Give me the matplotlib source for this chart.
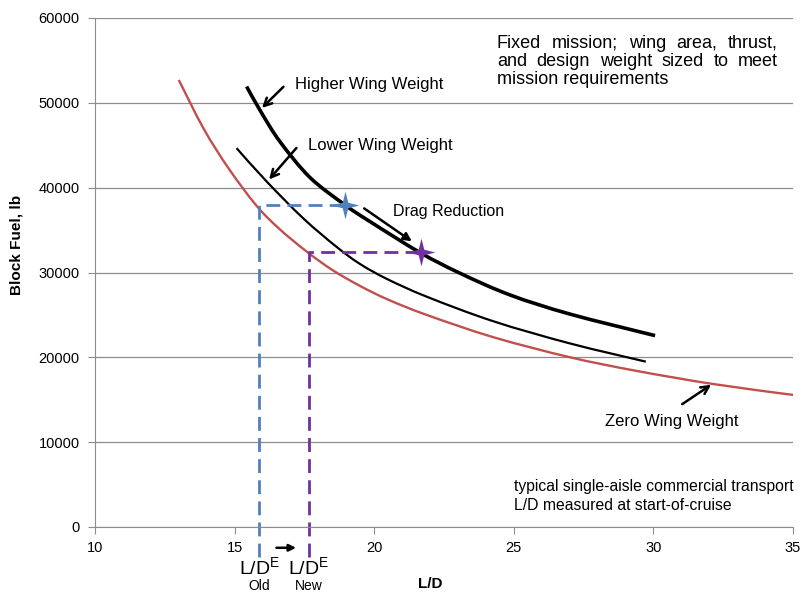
import numpy as np
import matplotlib.pyplot as plt
from matplotlib.path import Path
from matplotlib.patches import PathPatch

plt.rcParams['font.family'] = ['Liberation Sans', 'DejaVu Sans']

# Zero wing weight curve (red)
zero_x = [13.0, 13.9, 14.8, 15.79, 16.6, 17.58, 18.5, 19.49, 20.5, 21.88, 24.27,
          27.01, 29.4, 32.15, 35.0]
zero_y = [52700, 46900, 42200, 37850, 35150, 32470, 30300, 28420, 26800, 25000, 22370,
          20010, 18400, 16850, 15570]

# Higher wing weight curve (thick black)
high_x = [15.43, 15.95, 16.63, 17.70, 18.95, 19.85, 21.64, 23.07, 24.86, 27.01, 30.06]
high_y = [51920, 48900, 45400, 41200, 37970, 36000, 32350, 29920, 27360, 25100, 22560]

# Lower wing weight curve (thin black)
low_x = [15.07, 16.15, 17.46, 18.66, 19.49, 20.45, 21.88, 24.27, 27.01, 29.73]
low_y = [44660, 40720, 36380, 33000, 31010, 29250, 27150, 24250, 21640, 19490]

# L/D old / new points
ld_old, fuel_old, ld_old_star = 15.88, 37900, 18.95
ld_new, fuel_new, ld_new_star = 17.65, 32440, 21.68

blue = '#4f81bd'
purple = '#7030a0'
red = '#c0504d'


def smooth_line(ax, xs, ys, **kw):
    # Excel-style smoothed line: Catmull-Rom segments as cubic Beziers
    p = np.column_stack([xs, ys]).astype(float)
    verts = [p[0]]
    codes = [Path.MOVETO]
    n = len(p)
    for i in range(n - 1):
        p0 = p[i - 1] if i > 0 else p[i]
        p3 = p[i + 2] if i + 2 < n else p[i + 1]
        c1 = p[i] + (p[i + 1] - p0) / 6
        c2 = p[i + 1] - (p3 - p[i]) / 6
        verts += [c1, c2, p[i + 1]]
        codes += [Path.CURVE4] * 3
    ax.add_patch(PathPatch(Path(verts, codes), fill=False, capstyle='butt', **kw))


fig = plt.figure(figsize=(8.04, 5.93), dpi=100)
ax = fig.add_axes([95/804, 1-527/593, 698/804, 509/593])

smooth_line(ax, zero_x, zero_y, edgecolor=red, lw=1.7)
smooth_line(ax, low_x, low_y, edgecolor='black', lw=1.6)
smooth_line(ax, high_x, high_y, edgecolor='black', lw=2.6)

# dashed guides
ax.plot([ld_old, ld_old, ld_old_star], [-3500, fuel_old, fuel_old], color=blue, lw=2,
        ls=(0, (5, 2.6)), clip_on=False)
ax.plot([ld_new, ld_new, ld_new_star], [-3500, fuel_new, fuel_new], color=purple, lw=2,
        ls=(0, (5, 2.6)), clip_on=False)

star = Path([(0, 1), (0.2, 0.2), (1, 0), (0.2, -0.2), (0, -1), (-0.2, -0.2),
             (-1, 0), (-0.2, 0.2), (0, 1)], closed=True)
ax.plot([ld_old_star], [fuel_old], marker=star, ms=20, color=blue, mew=0)
ax.plot([ld_new_star], [fuel_new], marker=star, ms=20, color=purple, mew=0)

ax.set_xlim(10, 35)
ax.set_ylim(0, 60000)
ax.set_xticks([10, 15, 20, 25, 30, 35])
ax.set_yticks(range(0, 60001, 10000))
ax.grid(axis='y', color='#8c8c8c', lw=0.9)
ax.set_axisbelow(True)
for s in ['top', 'right']:
    ax.spines[s].set_visible(False)
for s in ['left', 'bottom']:
    ax.spines[s].set_color('#8c8c8c')
ax.tick_params(axis='x', direction='out', length=5, color='#8c8c8c', labelsize=10.5, pad=5)
ax.tick_params(axis='y', direction='out', length=5, color='#8c8c8c', labelsize=10.5, pad=6)

ax.set_xlabel('L/D', fontsize=11, fontweight='bold')
ax.xaxis.set_label_coords((430-95)/698, -50/509)
fig.text(17/804, 1-245/593, 'Block Fuel, lb', rotation=90, fontsize=11,
         fontweight='bold', ha='center', va='center')

arr = dict(arrowstyle='->', color='black', lw=1.8, mutation_scale=14)
ax.annotate('', xy=(15.91, 49170), xytext=(16.82, 52120), arrowprops=arr)
ax.text(17.16, 52120, 'Higher Wing Weight', fontsize=12, va='center')
ax.annotate('', xy=(16.17, 40720), xytext=(17.28, 44930), arrowprops=arr)
ax.text(17.63, 44930, 'Lower Wing Weight', fontsize=12, va='center')
ax.annotate('', xy=(21.43, 33490), xytext=(19.56, 37740),
            arrowprops=dict(arrowstyle='-|>', color='black', lw=1.8, mutation_scale=12))
ax.text(20.67, 37150, 'Drag Reduction', fontsize=11.5, va='center')
ax.annotate('', xy=(32.15, 16950), xytext=(30.95, 14300), arrowprops=arr)
ax.text(30.67, 12380, 'Zero Wing Weight', fontsize=12, va='center', ha='center')

# justified note in the top right
note_lines = ['Fixed mission; wing area, thrust,', 'and design weight sized to meet',
              'mission requirements']
note_y = [43, 61, 79]
x0, x1 = 497, 778
fig.canvas.draw()
renderer = fig.canvas.get_renderer()
for k, (line, py) in enumerate(zip(note_lines, note_y)):
    words = line.split(' ')
    if k == len(note_lines) - 1:
        fig.text(x0/804, 1-py/593, line, fontsize=13, va='center')
        continue
    objs = [fig.text(0, 1-py/593, w, fontsize=13, va='center') for w in words]
    widths = [o.get_window_extent(renderer).width for o in objs]
    gap = (x1 - x0 - sum(widths)) / (len(words) - 1)
    pos = x0
    for o, w in zip(objs, widths):
        o.set_x(pos/804)
        pos += w + gap

ax.text(25.01, 3650, 'typical single-aisle commercial transport\nL/D measured at start-of-cruise',
        fontsize=11.3, va='center', linespacing=1.3)

# L/D^E labels below axis
ax.text(ld_old, -4800, r'L/D$^{\mathregular{E}}$', fontsize=14, ha='center', va='center',
        clip_on=False)
ax.text(ld_old, -6950, 'Old', fontsize=10, ha='center', va='center', clip_on=False)
ax.text(ld_new, -4800, r'L/D$^{\mathregular{E}}$', fontsize=14, ha='center', va='center',
        clip_on=False)
ax.text(ld_new, -6950, 'New', fontsize=10, ha='center', va='center', clip_on=False)
ax.annotate('', xy=(17.3, -2450), xytext=(16.4, -2450), annotation_clip=False,
            arrowprops=dict(arrowstyle='-|>', color='black', lw=1.8, mutation_scale=10))

fig.savefig('out.png', dpi=100)
